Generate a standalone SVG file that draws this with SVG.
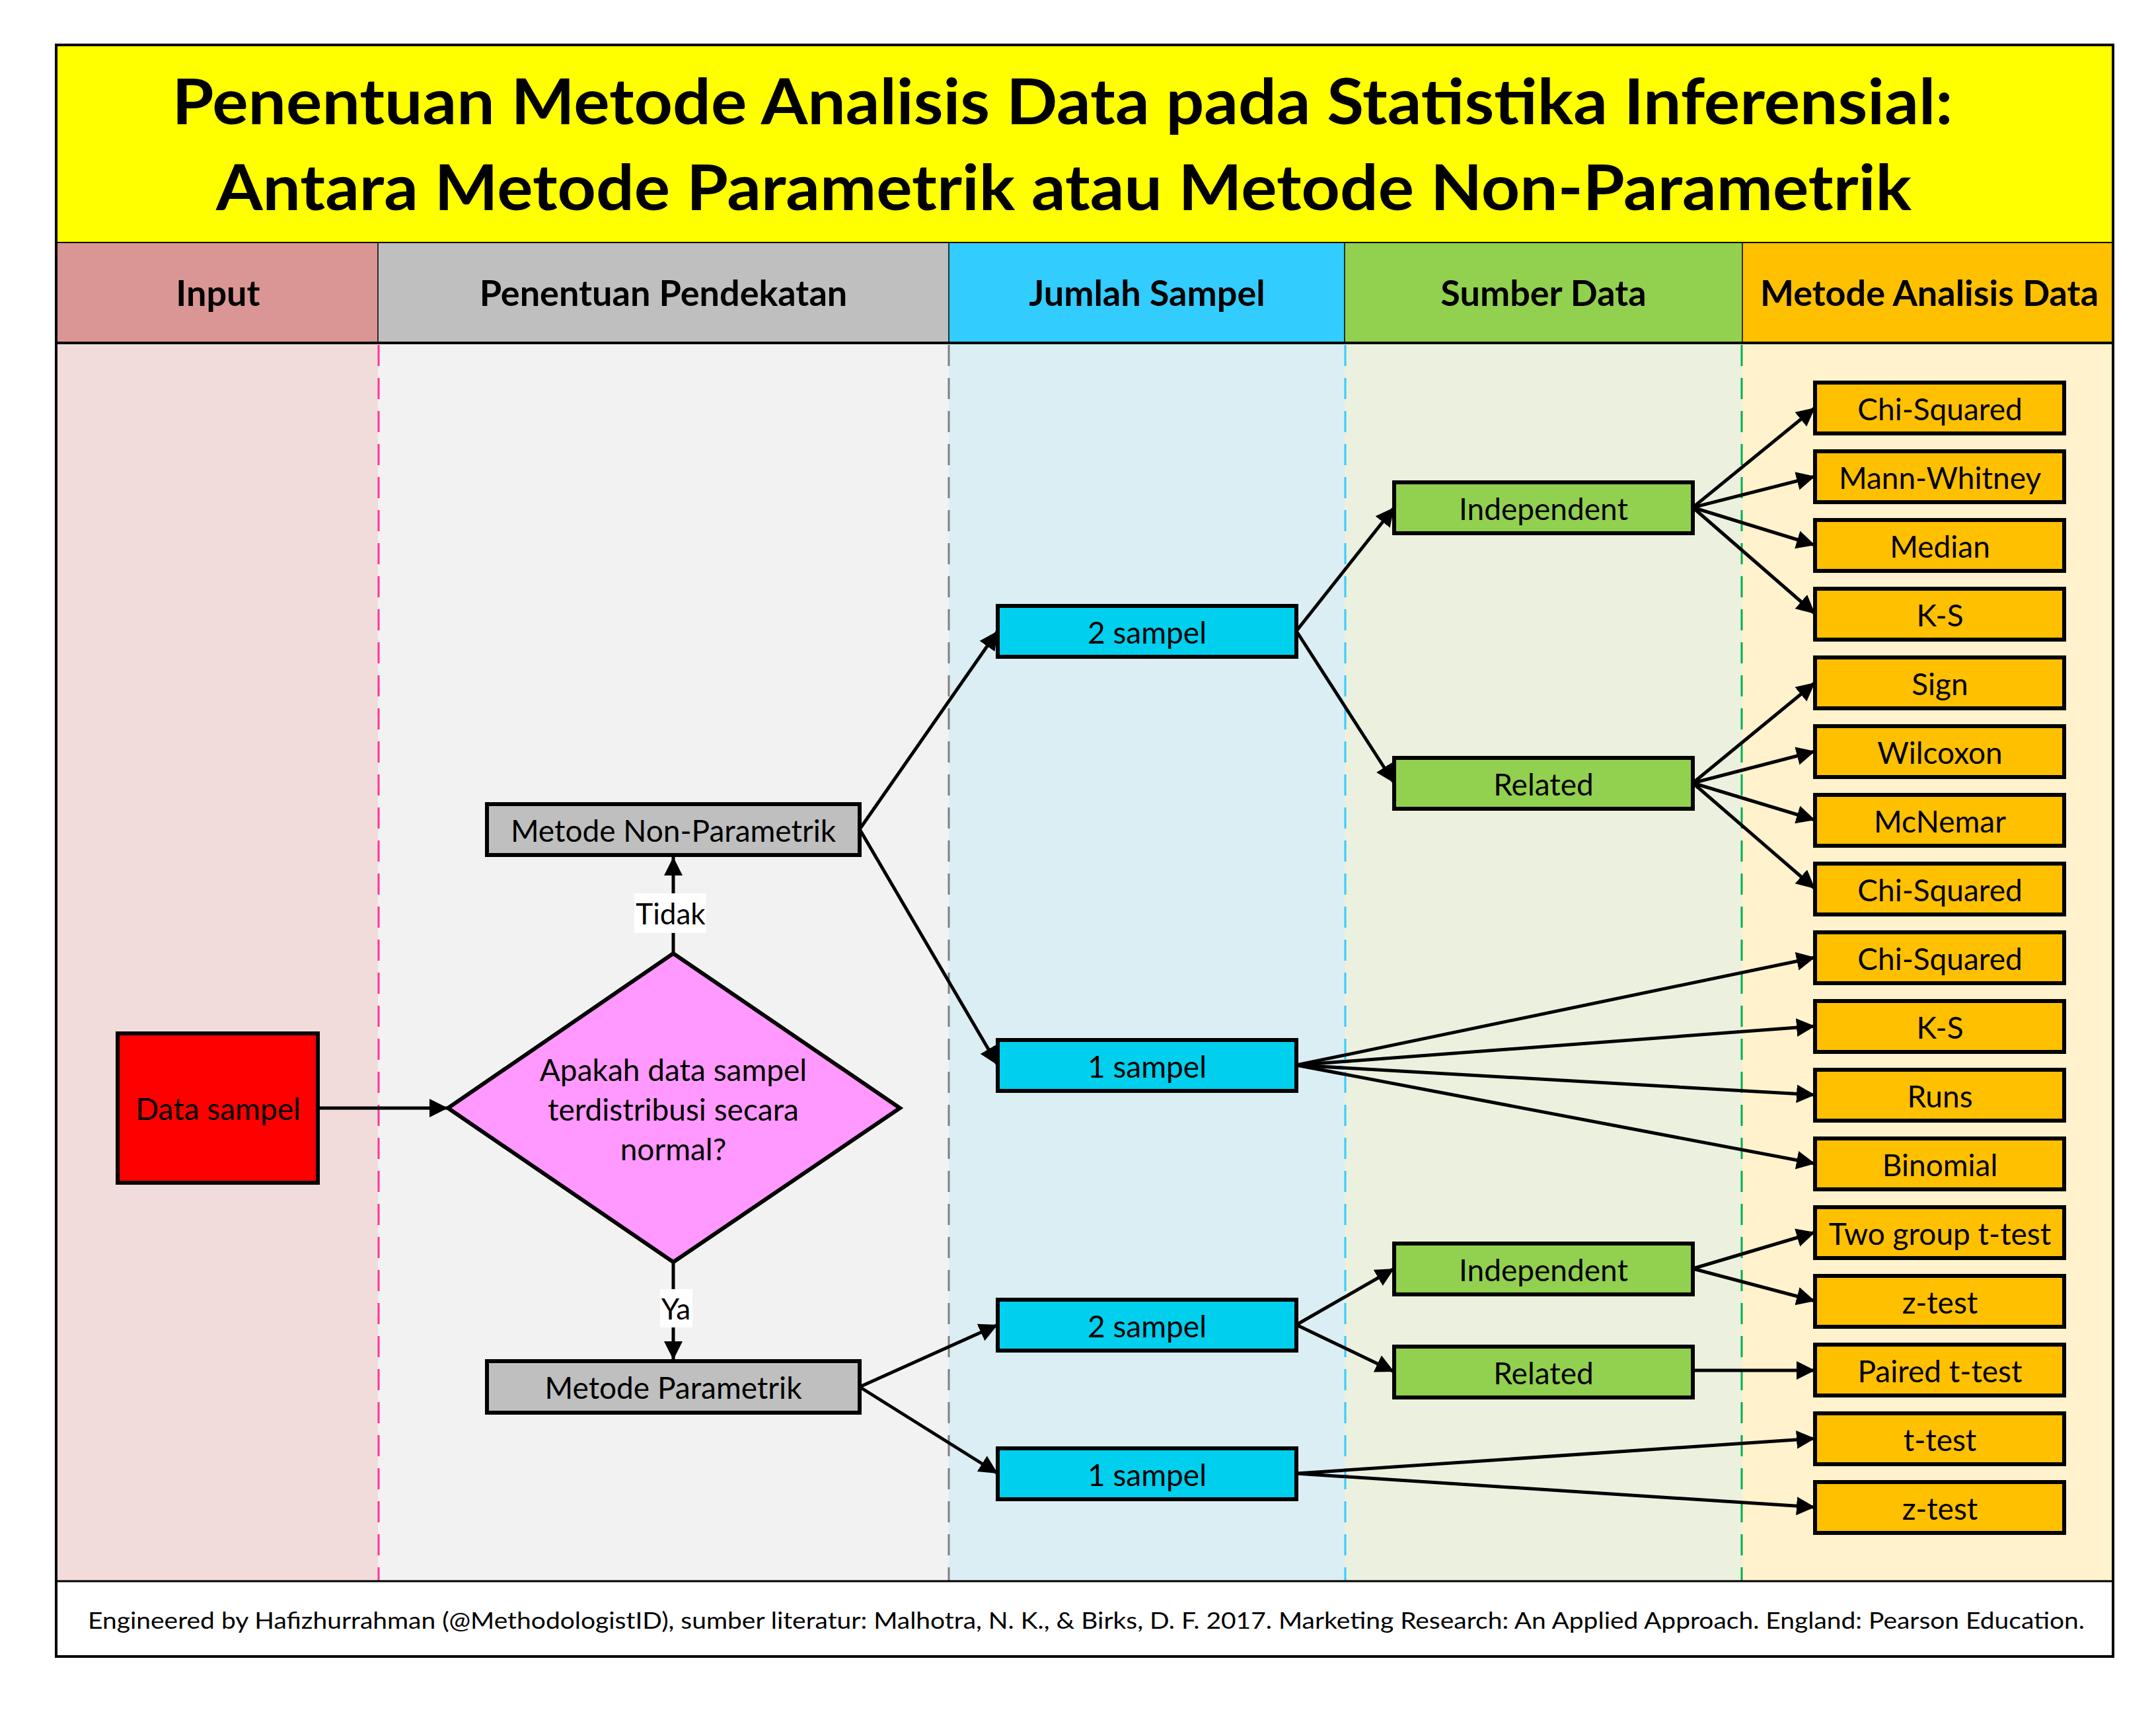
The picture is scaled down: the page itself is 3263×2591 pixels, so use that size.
<svg xmlns="http://www.w3.org/2000/svg" width="3263" height="2591" viewBox="0 0 3263 2591">
<style>
  text { font-family: Lato, "Open Sans", "Liberation Sans", sans-serif; fill: #000; }
  .title { font-size: 95px; font-weight: bold; text-anchor: middle; }
  .hdr { font-size: 54px; font-weight: bold; text-anchor: middle; }
  .lbl { font-size: 46px; text-anchor: middle; dominant-baseline: central; }
  .dtxt { font-size: 46px; text-anchor: middle; }
  .edge-lbl { font-size: 44px; text-anchor: middle; dominant-baseline: central; }
  .foot { font-size: 35px; }
  .box { stroke: #000; stroke-width: 6; }
  .gray { fill: #BFBFBF; }
  .cyan { fill: #00CFEE; }
  .green { fill: #92D050; }
  .orange { fill: #FFC000; }
  .conn { fill: none; stroke: #000; stroke-width: 5; marker-end: url(#arr); }
  .lane { fill: none; stroke-width: 3; stroke-dasharray: 32 18; }
  .hdiv { stroke: #000; stroke-width: 1.5; }
</style>
<defs>
  <marker id="arr" markerUnits="userSpaceOnUse" markerWidth="30" markerHeight="30" refX="28" refY="14" orient="auto">
    <path d="M0,0 L28,14 L0,28 z" fill="#000"/>
  </marker>
</defs>
<rect width="3263" height="2591" fill="#fff"/>

<g id="title">
  <rect x="85" y="68" width="3113" height="300" fill="#FFFF00" stroke="#000" stroke-width="4"/>
  <text class="title" x="1608" y="188" textLength="2695" lengthAdjust="spacingAndGlyphs">Penentuan Metode Analisis Data pada Statistika Inferensial:</text>
  <text class="title" x="1610" y="318" textLength="2566" lengthAdjust="spacingAndGlyphs">Antara Metode Parametrik atau Metode Non-Parametrik</text>
</g>

<g id="lanes">
  <rect x="85" y="368" width="487" height="151" fill="#DA9694"/>
  <rect x="572" y="368" width="864" height="151" fill="#BFBFBF"/>
  <rect x="1436" y="368" width="599" height="151" fill="#33CCFF"/>
  <rect x="2035" y="368" width="602" height="151" fill="#92D050"/>
  <rect x="2637" y="368" width="561" height="151" fill="#FFC000"/>
  <rect x="85" y="519" width="487" height="1874" fill="#F2DCDB"/>
  <rect x="572" y="519" width="864" height="1874" fill="#F2F2F2"/>
  <rect x="1436" y="519" width="599" height="1874" fill="#DAEEF3"/>
  <rect x="2035" y="519" width="602" height="1874" fill="#EBF1DE"/>
  <rect x="2637" y="519" width="561" height="1874" fill="#FFF2CC"/>
  <line class="hdiv" x1="572" y1="368" x2="572" y2="519"/>
  <line class="hdiv" x1="1436" y1="368" x2="1436" y2="519"/>
  <line class="hdiv" x1="2035" y1="368" x2="2035" y2="519"/>
  <line class="hdiv" x1="2637" y1="368" x2="2637" y2="519"/>
  <line class="lane" x1="573" y1="522" x2="573" y2="2393" stroke="#FF3399"/>
  <line class="lane" x1="1436" y1="522" x2="1436" y2="2393" stroke="#808080"/>
  <line class="lane" x1="2036" y1="522" x2="2036" y2="2393" stroke="#33CCFF"/>
  <line class="lane" x1="2636" y1="522" x2="2636" y2="2393" stroke="#00B050"/>
  <line x1="85" y1="519" x2="3198" y2="519" stroke="#000" stroke-width="4"/>
  <text class="hdr" x="330" y="463">Input</text>
  <text class="hdr" x="1004" y="463">Penentuan Pendekatan</text>
  <text class="hdr" x="1736" y="463">Jumlah Sampel</text>
  <text class="hdr" x="2336" y="463">Sumber Data</text>
  <text class="hdr" x="2920" y="463">Metode Analisis Data</text>
</g>

<g id="footer">
  <rect x="85" y="2393" width="3113" height="114" fill="#fff" stroke="#000" stroke-width="3"/>
  <text class="foot" x="133" y="2465" textLength="3022" lengthAdjust="spacingAndGlyphs">Engineered by Hafizhurrahman (@MethodologistID), sumber literatur: Malhotra, N. K., &amp; Birks, D. F. 2017. Marketing Research: An Applied Approach. England: Pearson Education.</text>
</g>
<rect x="85" y="68" width="3113" height="2439" fill="none" stroke="#000" stroke-width="4"/>

<g id="connectors">
  <path class="conn" d="M481,1677 L678,1677"/>
  <path class="conn" d="M1019,1443 L1019,1297"/>
  <path class="conn" d="M1019,1910 L1019,2058"/>
  <path class="conn" d="M1301,1255 L1510,955"/>
  <path class="conn" d="M1301,1255 L1510,1612"/>
  <path class="conn" d="M1301,2099 L1510,2005"/>
  <path class="conn" d="M1301,2099 L1510,2230"/>
  <path class="conn" d="M1962,955 L2110,768"/>
  <path class="conn" d="M1962,955 L2110,1185"/>
  <path class="conn" d="M2562,768 L2747,617"/>
  <path class="conn" d="M2562,768 L2747,721"/>
  <path class="conn" d="M2562,768 L2747,825"/>
  <path class="conn" d="M2562,768 L2747,929"/>
  <path class="conn" d="M2562,1185 L2747,1033"/>
  <path class="conn" d="M2562,1185 L2747,1137"/>
  <path class="conn" d="M2562,1185 L2747,1241"/>
  <path class="conn" d="M2562,1185 L2747,1345"/>
  <path class="conn" d="M1962,1612 L2747,1449"/>
  <path class="conn" d="M1962,1612 L2747,1553"/>
  <path class="conn" d="M1962,1612 L2747,1657"/>
  <path class="conn" d="M1962,1612 L2747,1761"/>
  <path class="conn" d="M1962,2005 L2110,1920"/>
  <path class="conn" d="M1962,2005 L2110,2076"/>
  <path class="conn" d="M2562,1920 L2747,1865"/>
  <path class="conn" d="M2562,1920 L2747,1969"/>
  <path class="conn" d="M2562,2074 L2747,2074"/>
  <path class="conn" d="M1962,2230 L2747,2177"/>
  <path class="conn" d="M1962,2230 L2747,2281"/>
  <rect x="960" y="1352" width="109" height="60" fill="#fff"/>
  <text class="edge-lbl" x="1015" y="1382">Tidak</text>
  <rect x="999" y="1951" width="49" height="58" fill="#fff"/>
  <text class="edge-lbl" x="1023" y="1980">Ya</text>
</g>

<g id="data-sampel">
  <rect class="box" x="178" y="1564" width="303" height="226" fill="#FF0000"/>
  <text class="lbl" x="330" y="1677">Data sampel</text>
</g>
<g id="decision">
  <polygon class="box" points="1019,1443 1362,1677 1019,1910 678,1677" fill="#FF99FF"/>
  <text class="dtxt" x="1019" y="1636">Apakah data sampel</text>
  <text class="dtxt" x="1019" y="1696">terdistribusi secara</text>
  <text class="dtxt" x="1019" y="1756">normal?</text>
</g>
<g id="non-parametrik">
  <rect class="box gray" x="737" y="1217" width="564" height="77"/>
  <text class="lbl" x="1019" y="1256">Metode Non-Parametrik</text>
</g>
<g id="parametrik">
  <rect class="box gray" x="737" y="2060" width="564" height="78"/>
  <text class="lbl" x="1019" y="2099">Metode Parametrik</text>
</g>

<g id="np-2sampel"><rect class="box cyan" x="1510" y="917" width="452" height="77"/><text class="lbl" x="1736" y="956">2 sampel</text></g>
<g id="np-1sampel"><rect class="box cyan" x="1510" y="1574" width="452" height="77"/><text class="lbl" x="1736" y="1613">1 sampel</text></g>
<g id="p-2sampel"><rect class="box cyan" x="1510" y="1967" width="452" height="77"/><text class="lbl" x="1736" y="2006">2 sampel</text></g>
<g id="p-1sampel"><rect class="box cyan" x="1510" y="2192" width="452" height="77"/><text class="lbl" x="1736" y="2231">1 sampel</text></g>

<g id="np-independent"><rect class="box green" x="2110" y="730" width="452" height="77"/><text class="lbl" x="2336" y="769">Independent</text></g>
<g id="np-related"><rect class="box green" x="2110" y="1147" width="452" height="77"/><text class="lbl" x="2336" y="1186">Related</text></g>
<g id="p-independent"><rect class="box green" x="2110" y="1882" width="452" height="77"/><text class="lbl" x="2336" y="1921">Independent</text></g>
<g id="p-related"><rect class="box green" x="2110" y="2038" width="452" height="77"/><text class="lbl" x="2336" y="2077">Related</text></g>

<g id="m1"><rect class="box orange" x="2747" y="579" width="377" height="77"/><text class="lbl" x="2936" y="618">Chi-Squared</text></g>
<g id="m2"><rect class="box orange" x="2747" y="683" width="377" height="77"/><text class="lbl" x="2936" y="722">Mann-Whitney</text></g>
<g id="m3"><rect class="box orange" x="2747" y="787" width="377" height="77"/><text class="lbl" x="2936" y="826">Median</text></g>
<g id="m4"><rect class="box orange" x="2747" y="891" width="377" height="77"/><text class="lbl" x="2936" y="930">K-S</text></g>
<g id="m5"><rect class="box orange" x="2747" y="995" width="377" height="77"/><text class="lbl" x="2936" y="1034">Sign</text></g>
<g id="m6"><rect class="box orange" x="2747" y="1099" width="377" height="77"/><text class="lbl" x="2936" y="1138">Wilcoxon</text></g>
<g id="m7"><rect class="box orange" x="2747" y="1203" width="377" height="77"/><text class="lbl" x="2936" y="1242">McNemar</text></g>
<g id="m8"><rect class="box orange" x="2747" y="1307" width="377" height="77"/><text class="lbl" x="2936" y="1346">Chi-Squared</text></g>
<g id="m9"><rect class="box orange" x="2747" y="1411" width="377" height="77"/><text class="lbl" x="2936" y="1450">Chi-Squared</text></g>
<g id="m10"><rect class="box orange" x="2747" y="1515" width="377" height="77"/><text class="lbl" x="2936" y="1554">K-S</text></g>
<g id="m11"><rect class="box orange" x="2747" y="1619" width="377" height="77"/><text class="lbl" x="2936" y="1658">Runs</text></g>
<g id="m12"><rect class="box orange" x="2747" y="1723" width="377" height="77"/><text class="lbl" x="2936" y="1762">Binomial</text></g>
<g id="m13"><rect class="box orange" x="2747" y="1827" width="377" height="77"/><text class="lbl" x="2936" y="1866">Two group t-test</text></g>
<g id="m14"><rect class="box orange" x="2747" y="1931" width="377" height="77"/><text class="lbl" x="2936" y="1970">z-test</text></g>
<g id="m15"><rect class="box orange" x="2747" y="2035" width="377" height="77"/><text class="lbl" x="2936" y="2074">Paired t-test</text></g>
<g id="m16"><rect class="box orange" x="2747" y="2139" width="377" height="77"/><text class="lbl" x="2936" y="2178">t-test</text></g>
<g id="m17"><rect class="box orange" x="2747" y="2243" width="377" height="77"/><text class="lbl" x="2936" y="2282">z-test</text></g>
</svg>
